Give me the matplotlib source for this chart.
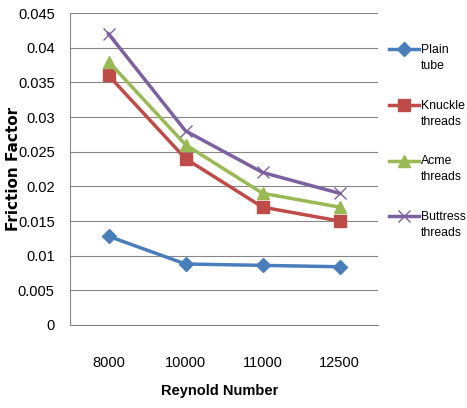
import matplotlib.pyplot as plt

# Data
reynolds = ['8000', '10000', '11000', '12500']
plain_tube = [0.0128, 0.0088, 0.0086, 0.0084]
knuckle_threads = [0.036, 0.024, 0.017, 0.015]
acme_threads = [0.038, 0.026, 0.019, 0.017]
buttress_threads = [0.042, 0.028, 0.022, 0.019]
y_ticks = [0, 0.005, 0.01, 0.015, 0.02, 0.025, 0.03, 0.035, 0.04, 0.045]
y_tick_labels = ['0', '0.005', '0.01', '0.015', '0.02', '0.025', '0.03', '0.035', '0.04', '0.045']

plt.rcParams['font.family'] = ['Liberation Sans', 'DejaVu Sans']

fig = plt.figure(figsize=(4.67, 4.08), dpi=100)
ax = fig.add_axes([70 / 467, 83 / 408, 308 / 467, 312 / 408])

x = range(len(reynolds))
ax.plot(x, plain_tube, color='#4A7EBB', marker='D', markersize=7, linewidth=2.5, label='Plain\ntube')
ax.plot(x, knuckle_threads, color='#BE4B48', marker='s', markersize=8, linewidth=2.5, label='Knuckle\nthreads')
ax.plot(x, acme_threads, color='#98B954', marker='^', markersize=9, linewidth=2.5, label='Acme\nthreads')
ax.plot(x, buttress_threads, color='#7D60A0', marker='x', markersize=9, markeredgewidth=1,
        linewidth=2.5, label='Buttress\nthreads')

ax.set_xlim(-0.5, 3.5)
ax.set_ylim(0, 0.045)
ax.set_xticks(list(x))
ax.set_xticklabels(reynolds, fontsize=10.5)
ax.set_yticks(y_ticks)
ax.set_yticklabels(y_tick_labels, fontsize=10.5)
ax.tick_params(axis='x', length=0, pad=22)
ax.tick_params(axis='y', length=0, pad=11)
ax.grid(axis='y', color='#868686', linewidth=0.8)
ax.set_axisbelow(True)
for side in ['top', 'right']:
    ax.spines[side].set_visible(False)
ax.spines['left'].set_color('#868686')
ax.spines['bottom'].set_color('#868686')

ax.set_xlabel('Reynold Number', fontsize=10.5, fontweight='bold')
ax.xaxis.set_label_coords(0.487, -0.19)
ax.set_ylabel('Friction Factor', fontsize=11, fontweight='bold', family='DejaVu Sans')
ax.yaxis.set_label_coords(-0.16, 0.5)

fs = 8.8
leg = ax.legend(loc='upper left', bbox_to_anchor=(389 / 467, 1 - 44 / 408), bbox_transform=fig.transFigure,
                frameon=False, fontsize=fs, handlelength=2.45, handletextpad=0.17, labelspacing=2.25,
                borderaxespad=0, borderpad=0)
for t in leg.get_texts():
    t.set_linespacing(1.45)
# put each legend line next to the first line of its two-line label
for line in leg.get_lines():
    line.set_ydata([y + 0.72 * fs for y in line.get_ydata()])

fig.savefig('out.png', dpi=100)
